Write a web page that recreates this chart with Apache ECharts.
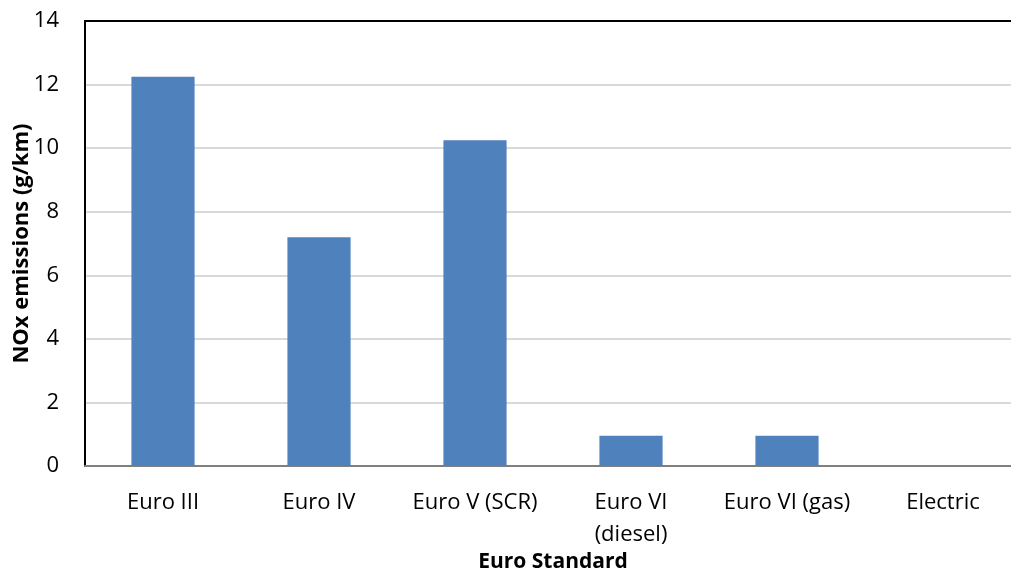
<!DOCTYPE html>
<html>
<head>
<meta charset="utf-8">
<script src="https://cdn.jsdelivr.net/npm/echarts@6/dist/echarts.min.js"></script>
<style>
html,body{margin:0;padding:0;background:#fff;}
#chart{width:1011px;height:573px;}
</style>
</head>
<body>
<div id="chart"></div>
<script>
const categories = ['Euro III', 'Euro IV', 'Euro V (SCR)', 'Euro VI\n(diesel)', 'Euro VI (gas)', 'Electric'];
const noxValues = [12.25, 7.2, 10.25, 0.95, 0.95, 0];
const yTicks = [0, 2, 4, 6, 8, 10, 12, 14];
const xTitle = 'Euro Standard';
const yTitle = 'NOx emissions (g/km)';

const FONT = '"Open Sans", "Liberation Sans", sans-serif';
const chart = echarts.init(document.getElementById('chart'));
chart.setOption({
  animation: false,
  grid: { left: 85, top: 21, bottom: 107, right: -10, containLabel: false, outerBoundsMode: 'none' },
  xAxis: [{
    type: 'category',
    data: categories,
    axisLine: { show: true, lineStyle: { color: '#808080', width: 2 } },
    axisTick: { show: false },
    axisLabel: { color: '#000', fontSize: 22, fontFamily: FONT, margin: 21, lineHeight: 32, interval: 0 },
    name: xTitle,
    nameLocation: 'middle',
    nameGap: 86,
    nameMoveOverlap: false,
    nameTextStyle: { color: '#000', fontSize: 21, fontWeight: 'bold', fontFamily: FONT },
    splitLine: { show: false }
  }, {
    type: 'category',
    position: 'top',
    data: categories,
    axisLine: { show: true, lineStyle: { color: '#000', width: 2 } },
    axisTick: { show: false },
    axisLabel: { show: false }
  }],
  yAxis: {
    type: 'value',
    min: yTicks[0],
    max: yTicks[yTicks.length - 1],
    interval: 2,
    axisLine: { show: true, lineStyle: { color: '#000', width: 2 } },
    axisTick: { show: false },
    axisLabel: { color: '#000', fontSize: 22, fontFamily: FONT, margin: 26 },
    splitLine: { show: true, lineStyle: { color: '#d9d9d9', width: 2 } },
    name: yTitle,
    nameLocation: 'middle',
    nameGap: 52,
    nameMoveOverlap: false,
    nameTextStyle: { color: '#000', fontSize: 22, fontWeight: 'bold', fontFamily: FONT }
  },
  series: [{
    type: 'bar',
    data: noxValues,
    barWidth: '40.5%',
    itemStyle: { color: '#4f81bd' }
  }]
});
</script>
</body>
</html>
